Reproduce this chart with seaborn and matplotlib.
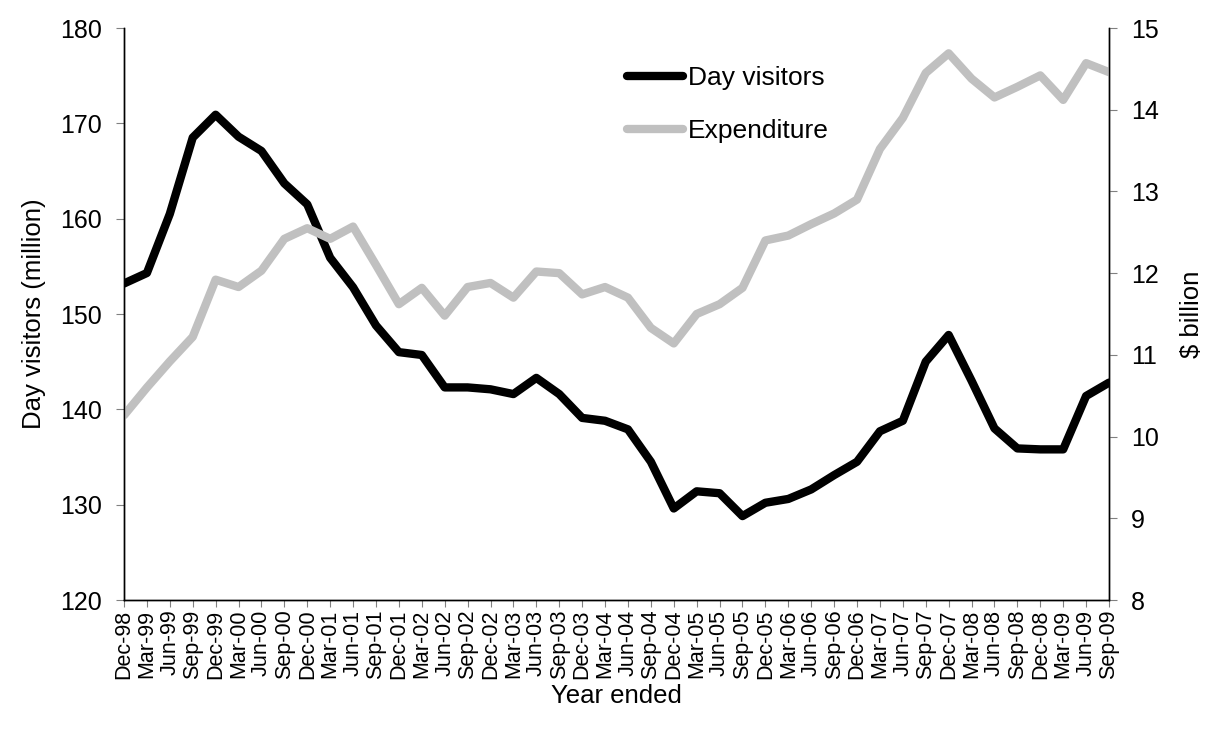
import numpy as np
import matplotlib
matplotlib.use('Agg')
import matplotlib.pyplot as plt
import seaborn as sns

#quarterly labels, year ended
quarters = ['Dec-98', 'Mar-99', 'Jun-99', 'Sep-99', 'Dec-99', 'Mar-00', 'Jun-00', 'Sep-00',
            'Dec-00', 'Mar-01', 'Jun-01', 'Sep-01', 'Dec-01', 'Mar-02', 'Jun-02', 'Sep-02',
            'Dec-02', 'Mar-03', 'Jun-03', 'Sep-03', 'Dec-03', 'Mar-04', 'Jun-04', 'Sep-04',
            'Dec-04', 'Mar-05', 'Jun-05', 'Sep-05', 'Dec-05', 'Mar-06', 'Jun-06', 'Sep-06',
            'Dec-06', 'Mar-07', 'Jun-07', 'Sep-07', 'Dec-07', 'Mar-08', 'Jun-08', 'Sep-08',
            'Dec-08', 'Mar-09', 'Jun-09', 'Sep-09']

#day visitors (million), left axis
visitors = [153.2, 154.3, 160.5, 168.5, 170.9, 168.6, 167.1, 163.7,
            161.5, 155.9, 152.8, 148.8, 146.0, 145.7, 142.3, 142.3,
            142.1, 141.6, 143.3, 141.6, 139.1, 138.8, 137.9, 134.5,
            129.6, 131.4, 131.2, 128.8, 130.2, 130.6, 131.6, 133.1,
            134.5, 137.7, 138.8, 145.0, 147.8, 143.0, 138.0, 135.9,
            135.8, 135.8, 141.4, 142.8]

#expenditure ($ billion), right axis
expenditure = [10.26, 10.60, 10.92, 11.22, 11.92, 11.83, 12.03, 12.42,
               12.55, 12.42, 12.57, 12.10, 11.62, 11.82, 11.48, 11.83,
               11.88, 11.70, 12.02, 12.00, 11.74, 11.83, 11.70, 11.33,
               11.14, 11.50, 11.62, 11.82, 12.40, 12.46, 12.60, 12.73,
               12.90, 13.52, 13.90, 14.45, 14.69, 14.38, 14.15, 14.28,
               14.42, 14.12, 14.57, 14.46]

sns.set_style('white', {'text.color': 'black', 'axes.labelcolor': 'black',
                        'xtick.color': 'black', 'ytick.color': 'black'})
plt.rcParams['font.family'] = ['Liberation Sans', 'DejaVu Sans']

fig, ax = plt.subplots(figsize=(12.11, 7.33), dpi=100)
fig.subplots_adjust(left=124/1211, right=1109/1211, top=1-28/733, bottom=1-600/733)

x = np.arange(len(quarters))
sns.lineplot(x=x, y=visitors, ax=ax, color='black', linewidth=6, label='Day visitors', legend=False)

ax2 = ax.twinx()
sns.lineplot(x=x, y=expenditure, ax=ax2, color='#c0c0c0', linewidth=6, label='Expenditure', legend=False)

ax.set_xlim(0, len(quarters) - 1)
ax.set_ylim(120, 180)
ax2.set_ylim(8, 15)
ax.set_yticks(np.arange(120, 181, 10))
ax2.set_yticks(np.arange(8, 16, 1))
ax.set_xticks(x)
ax.set_xticklabels(quarters, rotation=90, fontsize=15.5)

for a in (ax, ax2):
  a.spines['top'].set_visible(False)
  for s in a.spines.values():
    s.set_color('black')
    s.set_linewidth(1)
  a.grid(False)

ax.tick_params(axis='y', direction='out', length=6, color='#808080', labelcolor='black', labelsize=18, left=True, pad=10)
ax.tick_params(axis='x', direction='out', length=5, color='#808080', labelcolor='black', bottom=True, pad=2)
ax2.tick_params(axis='y', direction='out', length=6, color='#808080', labelcolor='black', labelsize=18, right=True, pad=10)

ax.set_xlabel('Year ended', fontsize=18.5, labelpad=3, color='black')
ax.set_ylabel('Day visitors (million)', fontsize=18.5, labelpad=10, color='black')
ax2.set_ylabel('$ billion', fontsize=18.5, rotation=90, labelpad=15, color='black')

h1, l1 = ax.get_legend_handles_labels()
h2, l2 = ax2.get_legend_handles_labels()
ax2.legend(h1 + h2, l1 + l2, loc='upper left', bbox_to_anchor=(0.487, 0.975), frameon=False,
           fontsize=19, handlelength=2.1, handletextpad=0.2, labelspacing=1.1, labelcolor='black')

plt.savefig('out.png', dpi=100)
